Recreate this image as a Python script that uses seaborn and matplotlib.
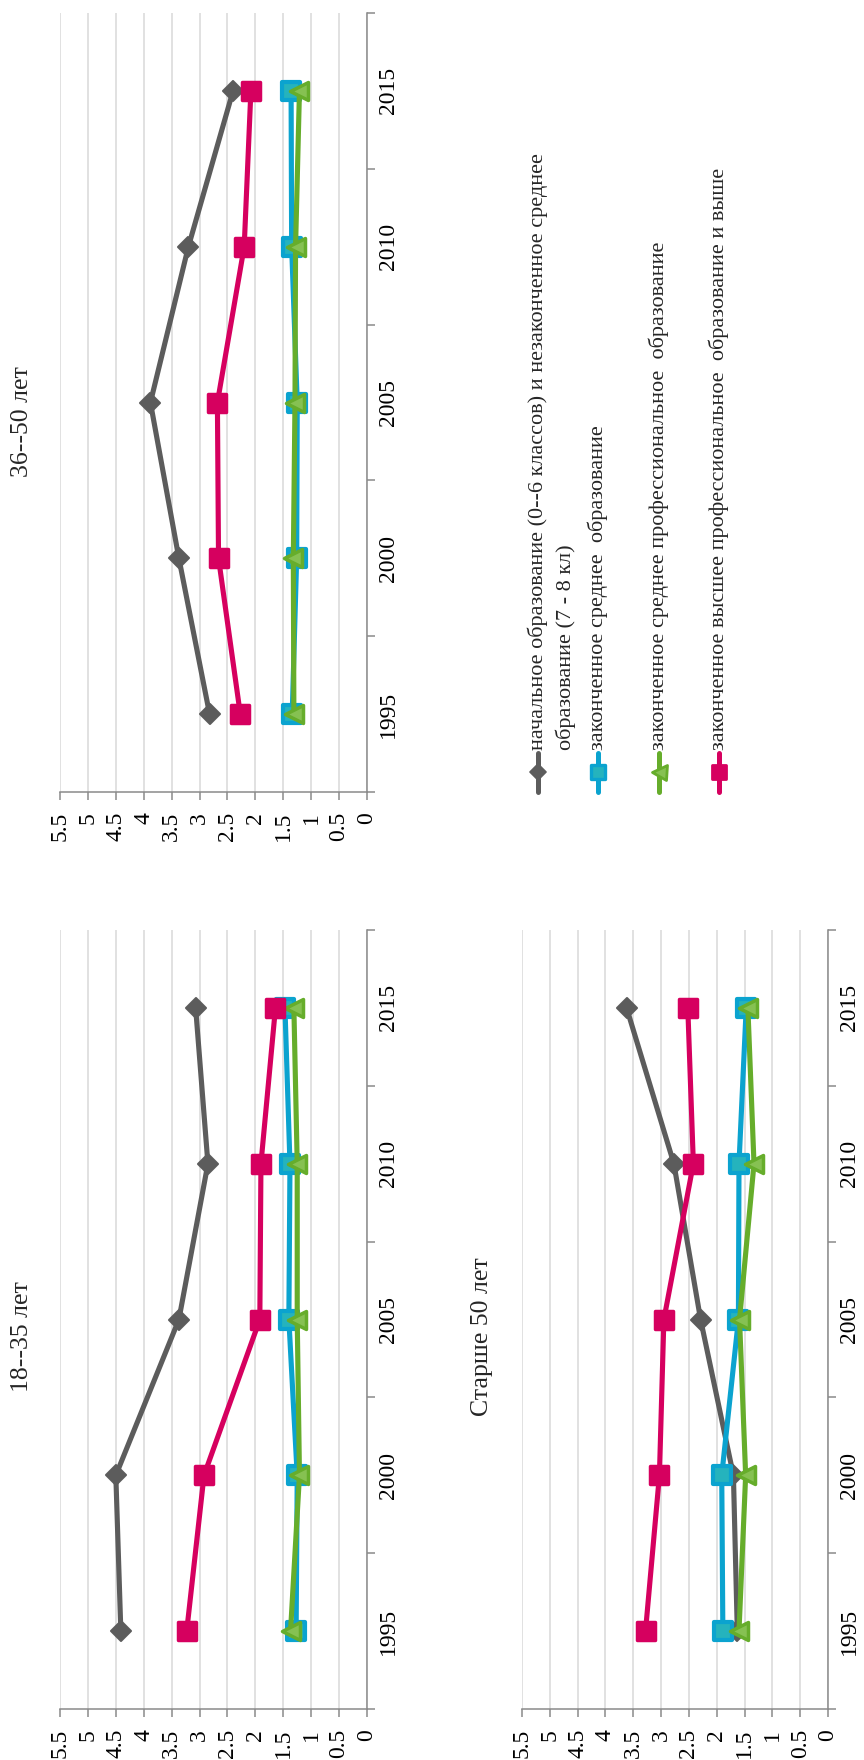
import numpy as np
import matplotlib
matplotlib.use("Agg")
import matplotlib.pyplot as plt
from matplotlib.markers import MarkerStyle
import seaborn as sns

# ---- data -------------------------------------------------------------
years = [1995, 2000, 2005, 2010, 2015]
year_labels = ["1995", "2000", "2005", "2010", "2015"]
value_ticks = [0, 0.5, 1, 1.5, 2, 2.5, 3, 3.5, 4, 4.5, 5, 5.5]
value_labels = ["0", "0.5", "1", "1.5", "2", "2.5", "3", "3.5", "4", "4.5", "5", "5.5"]

series_names = [
    ["начальное образование (0--6 классов) и незаконченное среднее",
     "образование (7 - 8 кл)"],
    ["законченное среднее  образование"],
    ["законченное среднее профессиональное  образование"],
    ["законченное высшее профессиональное  образование и выше"],
]

# 18--35 лет
young_primary = [4.41, 4.50, 3.37, 2.85, 3.07]
young_secondary = [1.27, 1.25, 1.40, 1.38, 1.47]
young_vocational = [1.37, 1.21, 1.25, 1.25, 1.31]
young_higher = [3.23, 2.92, 1.92, 1.90, 1.64]

# 36--50 лет
mid_primary = [2.82, 3.37, 3.88, 3.20, 2.40]
mid_secondary = [1.34, 1.26, 1.25, 1.35, 1.36]
mid_vocational = [1.31, 1.32, 1.29, 1.28, 1.21]
mid_higher = [2.27, 2.66, 2.68, 2.20, 2.08]

# Старше 50 лет
old_primary = [1.63, 1.70, 2.29, 2.77, 3.62]
old_secondary = [1.89, 1.91, 1.61, 1.60, 1.47]
old_vocational = [1.60, 1.48, 1.59, 1.33, 1.44]
old_higher = [3.28, 3.03, 2.95, 2.42, 2.52]

panel_titles = ["36--50 лет", "18--35 лет", "Старше 50 лет"]
panel_data = [
    [mid_primary, mid_secondary, mid_vocational, mid_higher],
    [young_primary, young_secondary, young_vocational, young_higher],
    [old_primary, old_secondary, old_vocational, old_higher],
]

# ---- style ------------------------------------------------------------
sns.set_theme(style="white")
plt.rcParams["font.family"] = ["Liberation Serif", "DejaVu Serif"]

W, H = 864, 1760
GRAY = "#5c5c5c"
BLUE = "#0ba3cf"
GREEN = "#66ad2b"
PINK = "#d6005f"
AXIS = "#8a8a8a"
GRID = "#d9d9d9"

styles = [
    dict(color=GRAY, marker="D", ms=10.5, mfc=GRAY, mec=GRAY, mew=1.5),
    dict(color=BLUE, marker="s", ms=12.5, mfc="#25b3bd", mec=BLUE, mew=3),
    dict(color=GREEN, marker="<", ms=13.5, mfc="#86c152", mec=GREEN, mew=2.5),
    dict(color=PINK, marker="s", ms=13, mfc=PINK, mec=PINK, mew=2.5),
]


def box(x0, y0, x1, y1):
    """Figure-fraction rectangle from pixel edges (origin top-left)."""
    return [x0 / W, 1 - y1 / H, (x1 - x0) / W, (y1 - y0) / H]


fig = plt.figure(figsize=(W / 100, H / 100), dpi=100)
fig.patch.set_facecolor("white")

panel_boxes = [(60, 13, 367, 792), (60, 930, 367, 1709), (522, 930, 828, 1709)]
title_pos = [(22, 422), (22, 1337), (482, 1337)]

for rect, title, tpos, data in zip(panel_boxes, panel_titles, title_pos, panel_data):
    ax = fig.add_axes(box(*rect))
    for vals, st in zip(data, styles):
        sns.lineplot(
            x=vals, y=years, orient="y", ax=ax, errorbar=None,
            color=st["color"], linewidth=3.7,
            marker=MarkerStyle(st["marker"], joinstyle="round"),
            markersize=st["ms"], markerfacecolor=st["mfc"],
            markeredgecolor=st["mec"], markeredgewidth=st["mew"],
            solid_joinstyle="round", solid_capstyle="round",
        )
    ax.set_xlim(5.5, 0)
    ax.set_ylim(1992.5, 2017.5)
    ax.set_xlabel("")
    ax.set_ylabel("")

    ax.set_xticks(value_ticks)
    ax.set_xticklabels(value_labels, rotation=90, fontsize=17)
    ax.tick_params(axis="x", length=5.8, width=1.1, color=AXIS, pad=8.5,
                   bottom=True, labelcolor="black")

    ax.yaxis.set_ticks_position("right")
    ax.set_yticks(np.arange(1992.5, 2018, 5))
    ax.set_yticklabels([])
    ax.set_yticks(years, minor=True)
    ax.set_yticklabels(year_labels, minor=True, rotation=90, va="center", fontsize=17)
    ax.tick_params(axis="y", which="major", length=5.8, width=1.1, color=AXIS,
                   right=True, left=False)
    ax.tick_params(axis="y", which="minor", length=0, pad=8, right=True, left=False,
                   labelright=True, labelleft=False, labelcolor="black")

    ax.grid(axis="x", color=GRID, linewidth=1.1)
    ax.grid(axis="y", visible=False)
    for side in ("top", "left"):
        ax.spines[side].set_visible(False)
    for side in ("right", "bottom"):
        ax.spines[side].set_visible(True)
        ax.spines[side].set_color(AXIS)
        ax.spines[side].set_linewidth(1.1)
    ax.set_facecolor("none")

    fig.text(tpos[0] / W, 1 - tpos[1] / H, title, rotation=90,
             ha="center", va="center", fontsize=18.5)

# ---- legend (rotated, drawn in pixel coordinates) -----------------------
leg = fig.add_axes([0, 0, 1, 1])
leg.set_xlim(0, W)
leg.set_ylim(H, 0)
leg.axis("off")
leg.patch.set_visible(False)

legend_x = [538, 598, 659, 719]
for lines, st, x in zip(series_names, styles, legend_x):
    leg.plot([x, x], [753, 792], color=st["color"], lw=3.6, solid_capstyle="round")
    leg.plot([x], [772.5], linestyle="none",
             marker=MarkerStyle(st["marker"], joinstyle="round"),
             markersize=st["ms"] * 0.8, markerfacecolor=st["mfc"],
             markeredgecolor=st["mec"], markeredgewidth=st["mew"] * 0.8)
    for k, line in enumerate(lines):
        leg.text(x + 28 * k, 750, line, rotation=90, ha="center", va="bottom",
                 fontsize=16)

fig.savefig("out.png", dpi=100)
